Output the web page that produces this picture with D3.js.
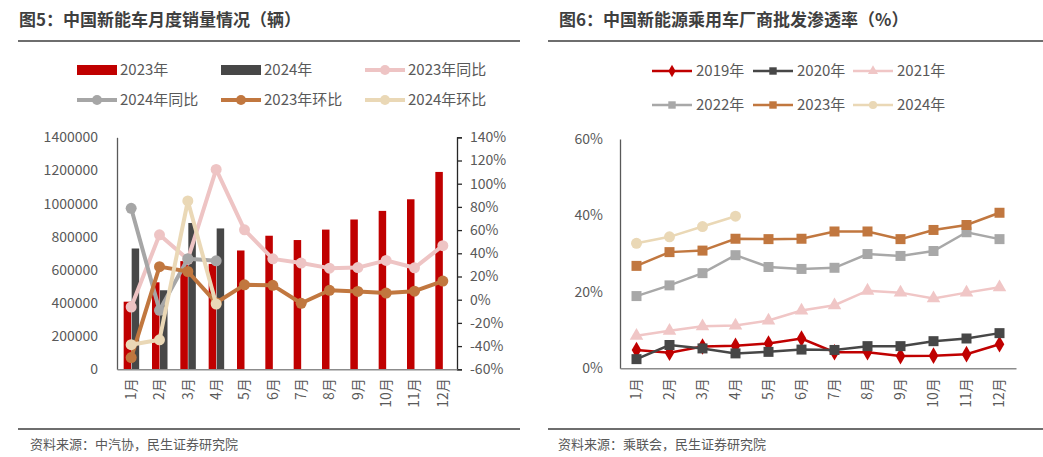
<!DOCTYPE html>
<html><head><meta charset="utf-8">
<script src="https://cdn.jsdelivr.net/npm/d3@7/dist/d3.min.js"></script>
<style>
body{margin:0;background:#fff;}
svg{display:block;font-family:"Noto Sans CJK SC","Noto Sans",sans-serif;}
</style></head><body>
<svg id="c" width="1043" height="457"></svg>
<script>
// ---------- data ----------
const months = ["1月","2月","3月","4月","5月","6月","7月","8月","9月","10月","11月","12月"];
const sales2023 = [408000,525000,653000,636000,717000,806000,780000,843000,904000,956000,1026000,1191000];
const sales2024 = [729000,477000,883000,850000];
const yoy2023 = [-6.3,55.9,34.8,112.3,60.2,35.2,31.6,27.2,27.7,33.9,27.5,46.6];
const yoy2024 = [78.8,-9.2,35.3,33.5];
const mom2023 = [-49.9,28.5,24.3,-2.6,12.8,12.4,-3.1,8.1,7.1,5.7,7.3,16.1];
const mom2024 = [-38.8,-34.6,85.1,-3.8];
const leftTicks = [0,200000,400000,600000,800000,1000000,1200000,1400000];
const rightTicks = [-60,-40,-20,0,20,40,60,80,100,120,140];

const pen2019 = [4.8,4.1,5.7,5.9,6.5,7.8,4.2,4.2,3.2,3.3,3.7,6.3];
const pen2020 = [2.4,6.1,5.2,3.9,4.3,4.9,4.8,5.8,5.8,7.1,7.8,9.2];
const pen2021 = [8.5,9.8,11.0,11.2,12.5,15.1,16.5,20.3,19.8,18.3,19.8,21.2];
const pen2022 = [18.9,21.7,24.9,29.6,26.5,26.0,26.3,29.9,29.4,30.7,35.6,33.8];
const pen2023 = [26.8,30.4,30.8,33.9,33.8,33.9,35.8,35.8,33.8,36.2,37.5,40.7];
const pen2024 = [32.7,34.4,37.1,39.8];
const penTicks = [0,20,40,60];

const svg = d3.select("#c");
const txt = "#595959";

// ---------- panel headers / footers ----------
function header(x0, x1, tx, sx, title, source){
  svg.append("text").attr("x",tx).attr("y",26).attr("font-size",17).attr("font-weight","bold")
    .attr("fill","#3f3f3f").text(title);
  svg.append("line").attr("x1",x0).attr("x2",x1).attr("y1",41).attr("y2",41)
    .attr("stroke","#6e6e6e").attr("stroke-width",2);
  svg.append("line").attr("x1",x0).attr("x2",x1).attr("y1",429).attr("y2",429)
    .attr("stroke","#6e6e6e").attr("stroke-width",2);
  svg.append("text").attr("x",sx).attr("y",449).attr("font-size",13).attr("fill",txt).text(source);
}
header(18,520,19,30,"图5：中国新能车月度销量情况（辆）","资料来源：中汽协，民生证券研究院");
header(548,1043,559,558,"图6：中国新能源乘用车厂商批发渗透率（%）","资料来源：乘联会，民生证券研究院");

// ---------- left chart ----------
const L = {x0:117, x1:457, y0:137.3, y1:369.3};
const xL = d3.scaleBand().domain(months).range([L.x0,L.x1]);
const yL = d3.scaleLinear().domain([0,1400000]).range([L.y1,L.y0]);
const yR = d3.scaleLinear().domain([-60,140]).range([L.y1,L.y0]);
const gL = svg.append("g");

const barW = 7.5;
gL.selectAll(".b23").data(sales2023).enter().append("rect")
  .attr("x",(d,i)=>xL(months[i])+xL.bandwidth()/2-barW).attr("width",barW)
  .attr("y",d=>yL(d)).attr("height",d=>yL(0)-yL(d)).attr("fill","#C00000");
gL.selectAll(".b24").data(sales2024).enter().append("rect")
  .attr("x",(d,i)=>xL(months[i])+xL.bandwidth()/2+0.5).attr("width",barW)
  .attr("y",d=>yL(d)).attr("height",d=>yL(0)-yL(d)).attr("fill","#474747");

// axes
const axL = d3.axisLeft(yL).tickValues(leftTicks).tickSize(0).tickPadding(19).tickFormat(d3.format("d"));
const gAxL = gL.append("g").attr("transform",`translate(${L.x0},0)`).call(axL);
const axR = d3.axisRight(yR).tickValues(rightTicks).tickSize(5).tickPadding(8).tickFormat(d=>d+"%");
const gAxR = gL.append("g").attr("transform",`translate(${L.x1},0)`).call(axR);
const axB = d3.axisBottom(xL).tickSize(0).tickPadding(0);
const gAxB = gL.append("g").attr("transform",`translate(0,${L.y1})`).call(axB);
[gAxL,gAxR,gAxB].forEach(g=>{
  g.selectAll("text").attr("font-size",14).attr("fill",txt).attr("font-family",'"Noto Sans CJK SC",sans-serif');
});
gAxL.select(".domain").attr("stroke","#595959").attr("stroke-width",1.3);
gAxR.select(".domain").attr("stroke","#262626").attr("stroke-width",1.3);
gAxR.selectAll(".tick line").attr("stroke","#262626").attr("stroke-width",1.3);
gAxB.select(".domain").attr("stroke","#8c8c8c").attr("stroke-width",1.5);
gAxB.selectAll("text").attr("transform","rotate(-90)").attr("text-anchor","end")
  .attr("x",-9).attr("y",0).attr("dy","0.35em");

function lineSeries(g, data, xs, ys, color, w, r){
  const pts = data.map((v,i)=>[xs(months[i])+xs.bandwidth()/2, ys(v)]);
  g.append("path").attr("d",d3.line()(pts)).attr("fill","none").attr("stroke",color)
    .attr("stroke-width",w).attr("stroke-linejoin","round");
  g.selectAll(null).data(pts).enter().append("circle").attr("cx",d=>d[0]).attr("cy",d=>d[1])
    .attr("r",r).attr("fill",color);
}
const cPink="#EEC4C4", cGray="#A6A6A6", cBrown="#C1773F", cBeige="#EAD8B6";
lineSeries(gL, yoy2023, xL, yR, cPink, 4, 5.5);
lineSeries(gL, yoy2024, xL, yR, cGray, 4, 5.5);
lineSeries(gL, mom2023, xL, yR, cBrown, 4, 5.5);
lineSeries(gL, mom2024, xL, yR, cBeige, 4, 5.5);

// left legend
const legL = [
  {n:"2023年",t:"bar",c:"#C00000",x:77,y:70},
  {n:"2024年",t:"bar",c:"#474747",x:221,y:70},
  {n:"2023年同比",t:"line",c:cPink,x:365,y:70},
  {n:"2024年同比",t:"line",c:cGray,x:77,y:100},
  {n:"2023年环比",t:"line",c:cBrown,x:221,y:100},
  {n:"2024年环比",t:"line",c:cBeige,x:365,y:100}
];
legL.forEach(l=>{
  if(l.t==="bar"){
    svg.append("rect").attr("x",l.x).attr("y",l.y-5).attr("width",40).attr("height",10).attr("fill",l.c);
  } else {
    svg.append("line").attr("x1",l.x).attr("x2",l.x+40).attr("y1",l.y).attr("y2",l.y)
      .attr("stroke",l.c).attr("stroke-width",4);
    svg.append("circle").attr("cx",l.x+20).attr("cy",l.y).attr("r",5).attr("fill",l.c);
  }
  svg.append("text").attr("x",l.x+43).attr("y",l.y).attr("dy","0.36em").attr("font-size",15)
    .attr("fill",txt).text(l.n);
});

// ---------- right chart ----------
const R = {x0:620, x1:1016, y0:139, y1:368.3};
const xP = d3.scaleBand().domain(months).range([R.x0,R.x1]);
const yP = d3.scaleLinear().domain([0,60]).range([R.y1,R.y0]);
const gR = svg.append("g");
const axP = d3.axisLeft(yP).tickValues(penTicks).tickSize(0).tickPadding(17).tickFormat(d=>d+"%");
const gAxP = gR.append("g").attr("transform",`translate(${R.x0},0)`).call(axP);
const axPB = d3.axisBottom(xP).tickSize(0);
const gAxPB = gR.append("g").attr("transform",`translate(0,${R.y1})`).call(axPB);
[gAxP,gAxPB].forEach(g=>{
  g.selectAll("text").attr("font-size",14).attr("fill",txt).attr("font-family",'"Noto Sans CJK SC",sans-serif');
});
gAxP.select(".domain").attr("stroke","#595959").attr("stroke-width",1.3);
gAxPB.select(".domain").attr("stroke","#8c8c8c").attr("stroke-width",1.5);
gAxPB.selectAll("text").attr("transform","rotate(-90)").attr("text-anchor","end")
  .attr("x",-10).attr("y",0).attr("dy","0.35em");

const symMap = {diamond:d3.symbolDiamond, square:d3.symbolSquare, triangle:d3.symbolTriangle, circle:d3.symbolCircle};
const pSeries = [
  {n:"2019年",d:pen2019,c:"#C00000",s:"diamond",size:80},
  {n:"2020年",d:pen2020,c:"#474747",s:"square",size:100},
  {n:"2021年",d:pen2021,c:"#F0C6C6",s:"triangle",size:80},
  {n:"2022年",d:pen2022,c:"#A8A8A8",s:"square",size:100},
  {n:"2023年",d:pen2023,c:"#C1773F",s:"square",size:100},
  {n:"2024年",d:pen2024,c:"#EAD8B6",s:"circle",size:95}
];
pSeries.forEach(p=>{
  const pts = p.d.map((v,i)=>[xP(months[i])+xP.bandwidth()/2, yP(v)]);
  gR.append("path").attr("d",d3.line()(pts)).attr("fill","none").attr("stroke",p.c).attr("stroke-width",2.5);
  gR.selectAll(null).data(pts).enter().append("path")
    .attr("d",d3.symbol().type(symMap[p.s]).size(p.size))
    .attr("transform",d=>`translate(${d[0]},${d[1]})`).attr("fill",p.c);
});
// right legend
pSeries.forEach((p,i)=>{
  const x = [652,753,853][i%3], y = i<3?71:105;
  svg.append("line").attr("x1",x).attr("x2",x+40).attr("y1",y).attr("y2",y).attr("stroke",p.c).attr("stroke-width",2.5);
  svg.append("path").attr("d",d3.symbol().type(symMap[p.s]).size(p.size*0.55))
    .attr("transform",`translate(${x+20},${y})`).attr("fill",p.c);
  svg.append("text").attr("x",x+44).attr("y",y).attr("dy","0.36em").attr("font-size",15)
    .attr("fill",txt).text(p.n);
});
</script></body></html>
